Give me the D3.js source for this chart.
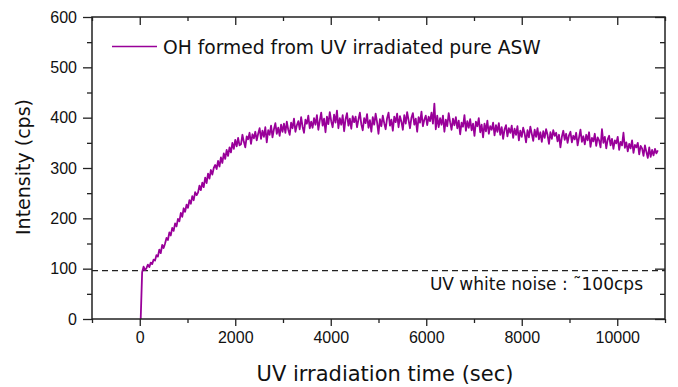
<!DOCTYPE html>
<html>
<head>
<meta charset="utf-8">
<script src="https://cdn.jsdelivr.net/npm/d3@7"></script>
<style>
  body { margin: 0; background: #fff; }
  svg { display: block; font-family: "DejaVu Sans", sans-serif; }
</style>
</head>
<body>
<div class="chartContainer"></div>
<script>
var startTime = 20,
    sampleStep = 30;

var intensity = [
  0, 93, 104, 97, 101, 108, 103, 112, 109, 118,
  116, 127, 124, 138, 131, 147, 141, 150, 161, 157,
  172, 166, 181, 175, 190, 184, 199, 194, 211, 203,
  220, 213, 227, 221, 236, 229, 244, 236, 252, 246,
  251, 265, 256, 271, 262, 281, 270, 289, 279, 296,
  287, 300, 306, 298, 314, 303, 321, 310, 329, 318,
  336, 324, 341, 331, 350, 338, 356, 343, 360, 345,
  347, 366, 352, 341, 363, 357, 370, 348, 367, 359,
  372, 355, 368, 379, 358, 374, 362, 381, 351, 375,
  366, 384, 361, 377, 389, 368, 380, 364, 386, 372,
  388, 370, 392, 376, 366, 390, 379, 398, 372, 385,
  393, 377, 401, 382, 370, 396, 388, 404, 379, 392,
  380, 399, 386, 405, 376, 394, 410, 384, 398, 371,
  402, 387, 411, 393, 381, 406, 390, 414, 379, 399,
  386, 405, 373, 397, 409, 384, 398, 378, 403, 391,
  402, 381, 396, 410, 387, 375, 399, 389, 407, 380,
  395, 372, 401, 386, 408, 391, 368, 397, 383, 404,
  389, 377, 399, 410, 384, 396, 374, 402, 391, 408,
  381, 403, 392, 376, 405, 388, 411, 395, 379, 400,
  409, 386, 398, 372, 401, 390, 412, 383, 396, 404,
  385, 402, 393, 410, 388, 428, 377, 404, 381, 399,
  386, 404, 372, 396, 383, 409, 391, 376, 398, 385,
  401, 379, 394, 367, 390, 382, 405, 374, 393, 380,
  397, 375, 388, 364, 392, 383, 399, 371, 386, 361,
  388, 373, 394, 368, 383, 376, 390, 365, 385, 372,
  389, 366, 381, 358, 377, 385, 363, 379, 370, 384,
  360, 378, 366, 383, 355, 374, 362, 380, 369, 351,
  375, 361, 382, 368, 354, 376, 362, 379, 357, 371,
  352, 373, 360, 377, 366, 348, 371, 358, 375, 364,
  370, 353, 366, 341, 362, 374, 356, 368, 350, 365,
  372, 351, 364, 357, 370, 345, 361, 376, 352, 363,
  347, 366, 355, 371, 342, 360, 353, 368, 344, 361,
  355, 341, 377, 350, 362, 339, 357, 364, 345, 358,
  338, 355, 349, 362, 336, 352, 345, 370, 340, 351,
  333, 348, 339, 355, 330, 346, 341, 350, 327, 344,
  339, 324, 345, 332, 320, 341, 322, 336, 325, 338,
  329, 335
];

var xMajorTicks = [0, 2000, 4000, 6000, 8000, 10000],
    xMinorTicks = [-1000, 1000, 3000, 5000, 7000, 9000, 11000],
    yMajorTicks = [0, 100, 200, 300, 400, 500, 600],
    yMinorTicks = [50, 150, 250, 350, 450, 550];

var noiseLevel = 96;

var seriesName = "OH formed from UV irradiated pure ASW",
    noiseLabel = "UV white noise : \u02DC100cps",
    xTitle = "UV irradiation time (sec)",
    yTitle = "Intensity (cps)";

function traceChart() {

  var width = 678,
      height = 387,
      margin = { top: 17, right: 13, bottom: 68, left: 92 },
      color = "#990099";

  function chart(selection) {
    selection.each(function () {
      var svg = d3.select(this).append("svg")
          .attr("width", width)
          .attr("height", height);

      var w = width - margin.left - margin.right,
          h = height - margin.top - margin.bottom;

      var x = d3.scaleLinear().domain([-1000, 11000]).range([0, w]);
      var y = d3.scaleLinear().domain([0, 600]).range([h, 0]);

      var g = svg.append("g")
          .attr("transform", "translate(" + margin.left + "," + margin.top + ")");

      // dashed noise level
      g.append("line")
          .attr("x1", 0).attr("x2", w)
          .attr("y1", y(noiseLevel)).attr("y2", y(noiseLevel))
          .attr("stroke", "#222")
          .attr("stroke-width", 1.2)
          .attr("stroke-dasharray", "6,4");

      var points = intensity.map(function (v, i) {
        return { t: startTime + i * sampleStep, v: v };
      });

      var line = d3.line()
          .x(function (d) { return x(d.t); })
          .y(function (d) { return y(d.v); });

      g.append("path")
          .datum(points)
          .attr("fill", "none")
          .attr("stroke", color)
          .attr("stroke-width", 1.8)
          .attr("stroke-linejoin", "round")
          .attr("d", line);

      // axes: bottom/left outward, top/right mirrored inward
      function styleAxis(sel) {
        sel.select(".domain").remove();
        sel.selectAll("line").attr("stroke", "#222").attr("stroke-width", 1.3);
        sel.selectAll("text").attr("fill", "#111").style("font-size", "16px");
      }

      g.append("g").attr("transform", "translate(0," + h + ")")
          .call(d3.axisBottom(x).tickValues(xMajorTicks).tickSize(7).tickPadding(6).tickFormat(d3.format("d")))
          .call(styleAxis);
      g.append("g").attr("transform", "translate(0," + h + ")")
          .call(d3.axisBottom(x).tickValues(xMinorTicks).tickSize(4).tickFormat(""))
          .call(styleAxis);
      g.append("g")
          .call(d3.axisTop(x).tickValues(xMajorTicks).tickSize(-8).tickFormat(""))
          .call(styleAxis);
      g.append("g")
          .call(d3.axisTop(x).tickValues(xMinorTicks).tickSize(-4).tickFormat(""))
          .call(styleAxis);

      g.append("g")
          .call(d3.axisLeft(y).tickValues(yMajorTicks).tickSize(9).tickPadding(6))
          .call(styleAxis);
      g.append("g")
          .call(d3.axisLeft(y).tickValues(yMinorTicks).tickSize(5).tickFormat(""))
          .call(styleAxis);
      g.append("g").attr("transform", "translate(" + w + ",0)")
          .call(d3.axisRight(y).tickValues(yMajorTicks).tickSize(-10).tickFormat(""))
          .call(styleAxis);
      g.append("g").attr("transform", "translate(" + w + ",0)")
          .call(d3.axisRight(y).tickValues(yMinorTicks).tickSize(-5).tickFormat(""))
          .call(styleAxis);

      // frame
      g.append("rect")
          .attr("width", w).attr("height", h)
          .attr("fill", "none")
          .attr("stroke", "#222")
          .attr("stroke-width", 1.5);

      // legend
      g.append("line")
          .attr("x1", 20).attr("x2", 65)
          .attr("y1", 29.5).attr("y2", 29.5)
          .attr("stroke", color)
          .attr("stroke-width", 1.3);
      g.append("text")
          .attr("x", 71).attr("y", 36.5)
          .attr("fill", "#111")
          .style("font-size", "18.7px")
          .text(seriesName);

      g.append("text")
          .attr("x", 551).attr("y", 273)
          .attr("text-anchor", "end")
          .attr("fill", "#111")
          .style("font-size", "17px")
          .text(noiseLabel);

      svg.append("text")
          .attr("x", 385).attr("y", 381)
          .attr("text-anchor", "middle")
          .attr("fill", "#111")
          .style("font-size", "21px")
          .text(xTitle);

      svg.append("text")
          .attr("transform", "translate(30,167) rotate(-90)")
          .attr("text-anchor", "middle")
          .attr("fill", "#111")
          .style("font-size", "19px")
          .text(yTitle);
    });
  }

  return chart;
}

d3.select(".chartContainer").call(traceChart());
</script>
</body>
</html>
